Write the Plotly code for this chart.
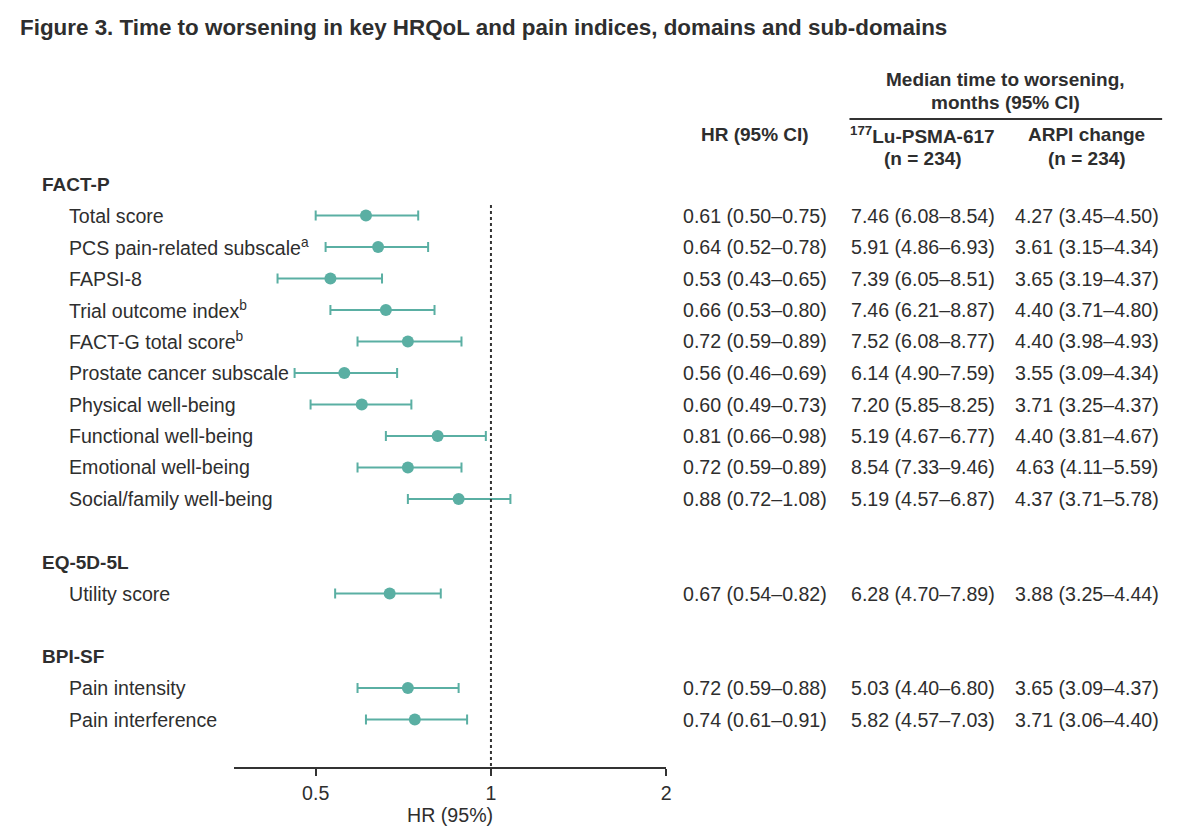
import math
import plotly.graph_objects as go

# ---------------- data ----------------
group_names = ["FACT-P", "EQ-5D-5L", "BPI-SF"]
group_sizes = [10, 1, 2]

labels = [
    "Total score",
    "PCS pain-related subscale<sup>a</sup>",
    "FAPSI-8",
    "Trial outcome index<sup>b</sup>",
    "FACT-G total score<sup>b</sup>",
    "Prostate cancer subscale",
    "Physical well-being",
    "Functional well-being",
    "Emotional well-being",
    "Social/family well-being",
    "Utility score",
    "Pain intensity",
    "Pain interference",
]
hr = [0.61, 0.64, 0.53, 0.66, 0.72, 0.56, 0.60, 0.81, 0.72, 0.88, 0.67, 0.72, 0.74]
hr_lo = [0.50, 0.52, 0.43, 0.53, 0.59, 0.46, 0.49, 0.66, 0.59, 0.72, 0.54, 0.59, 0.61]
hr_hi = [0.75, 0.78, 0.65, 0.80, 0.89, 0.69, 0.73, 0.98, 0.89, 1.08, 0.82, 0.88, 0.91]

lu_med = [7.46, 5.91, 7.39, 7.46, 7.52, 6.14, 7.20, 5.19, 8.54, 5.19, 6.28, 5.03, 5.82]
lu_lo = [6.08, 4.86, 6.05, 6.21, 6.08, 4.90, 5.85, 4.67, 7.33, 4.57, 4.70, 4.40, 4.57]
lu_hi = [8.54, 6.93, 8.51, 8.87, 8.77, 7.59, 8.25, 6.77, 9.46, 6.87, 7.89, 6.80, 7.03]

arpi_med = [4.27, 3.61, 3.65, 4.40, 4.40, 3.55, 3.71, 4.40, 4.63, 4.37, 3.88, 3.65, 3.71]
arpi_lo = [3.45, 3.15, 3.19, 3.71, 3.98, 3.09, 3.25, 3.81, 4.11, 3.71, 3.25, 3.09, 3.06]
arpi_hi = [4.50, 4.34, 4.37, 4.80, 4.93, 4.34, 4.37, 4.67, 5.59, 5.78, 4.44, 4.37, 4.40]

x_ticks = [0.5, 1, 2]
x_ticktext = ["0.5", "1", "2"]

# ---------------- layout helpers ----------------
W, H = 1200, 838
TEAL = "#5aafa3"
TXT = "#2e2e2e"
FONT = "Liberation Sans, Arial, sans-serif"
FS = 19.6
FSB = 19

COL_HR, COL_LU, COL_ARPI, COL_MED = 758, 926.5, 1091.5, 1010

header_rows = []
item_rows = []
r = 0
for gs in group_sizes:
    header_rows.append(r)
    r += 1
    for _ in range(gs):
        item_rows.append(r)
        r += 1
    r += 1  # blank row

def fmt(m, lo, hi):
    return f"{m:.2f} ({lo:.2f}\u2013{hi:.2f})"

ROW0_PX, ROW_PX, AXIS_PX = 184.0, 31.5, 767.0
y_bottom = (AXIS_PX - ROW0_PX) / ROW_PX
top_px = 150.0
y_top = (top_px - ROW0_PX) / ROW_PX

def py(px):
    return 1 - px / H

fig = go.Figure()

fig.add_trace(go.Scatter(
    x=hr, y=item_rows, mode="markers",
    marker=dict(color=TEAL, size=12),
    error_x=dict(type="data", symmetric=False,
                 array=[h - m for h, m in zip(hr_hi, hr)],
                 arrayminus=[m - l for m, l in zip(hr, hr_lo)],
                 color=TEAL, thickness=2, width=5),
    showlegend=False, hoverinfo="skip",
))

fig.add_shape(type="line", x0=1, x1=1, xref="x", yref="y",
              y0=0.67, y1=y_bottom, line=dict(color="#333333", width=2, dash="dot"))

ann = []
def add(text, xpx, ypx, anchor="left", bold=False, size=FS):
    t = f"<b>{text}</b>" if bold else text
    ann.append(dict(text=t, x=xpx / W, y=py(ypx), xref="paper", yref="paper",
                    xanchor=anchor, yanchor="middle", showarrow=False,
                    font=dict(family=FONT, size=size, color=TXT)))

add("Figure 3. Time to worsening in key HRQoL and pain indices, domains and sub-domains",
    18, 27, bold=True, size=22.4)

add("Median time to worsening,", COL_MED, 80, anchor="center", bold=True, size=FSB)
add("months (95% CI)", COL_MED, 103, anchor="center", bold=True, size=FSB)
add("HR (95% CI)", COL_HR, 135, anchor="center", bold=True, size=FSB)
add("<sup>177</sup>Lu-PSMA-617", COL_LU, 135, anchor="center", bold=True, size=FSB)
add("(n = 234)", COL_LU, 158, anchor="center", bold=True, size=FSB)
add("ARPI change", COL_ARPI, 135, anchor="center", bold=True, size=FSB)
add("(n = 234)", COL_ARPI, 158, anchor="center", bold=True, size=FSB)

fig.add_shape(type="line", xref="paper", yref="paper",
              x0=853 / W, x1=1167 / W, y0=py(119), y1=py(119),
              line=dict(color="#333333", width=2))

for g, row in zip(group_names, header_rows):
    add(g, 40, ROW0_PX + row * ROW_PX, bold=True, size=FSB)

for i, row in enumerate(item_rows):
    ypx = ROW0_PX + row * ROW_PX
    add(labels[i], 67, ypx)
    add(fmt(hr[i], hr_lo[i], hr_hi[i]), COL_HR, ypx, anchor="center")
    add(fmt(lu_med[i], lu_lo[i], lu_hi[i]), COL_LU, ypx, anchor="center")
    add(fmt(arpi_med[i], arpi_lo[i], arpi_hi[i]), COL_ARPI, ypx, anchor="center")

x_left = 235 / W
x_right = 669 / W
log_per_px = math.log10(2) / (669 - 493)
xr0 = math.log10(1) - (493 - 235) * log_per_px
xr1 = math.log10(2)

fig.update_layout(
    width=W, height=H,
    margin=dict(l=0, r=0, t=0, b=0),
    paper_bgcolor="white", plot_bgcolor="white",
    annotations=ann,
    font=dict(family=FONT, size=FS, color=TXT),
    xaxis=dict(type="log", domain=[x_left, x_right], range=[xr0, xr1],
               showgrid=False, zeroline=False,
               showline=True, linecolor="#333333", linewidth=2,
               ticks="outside", ticklen=7, tickwidth=2, tickcolor="#333333",
               tickvals=x_ticks, ticktext=x_ticktext,
               tickfont=dict(family=FONT, size=FS, color=TXT),
               title=dict(text="HR (95%)", standoff=6,
                          font=dict(family=FONT, size=FS, color=TXT))),
    yaxis=dict(domain=[py(AXIS_PX), py(top_px)], range=[y_bottom, y_top],
               showgrid=False, zeroline=False, showline=False,
               showticklabels=False, ticks=""),
)

fig.write_html(
    "out.html",
    config={"displayModeBar": False},
    post_script=("document.body.style.margin='0';document.body.style.padding='0';"
                 "document.body.style.overflow='hidden';"
                 "document.documentElement.style.overflow='hidden';"),
)
